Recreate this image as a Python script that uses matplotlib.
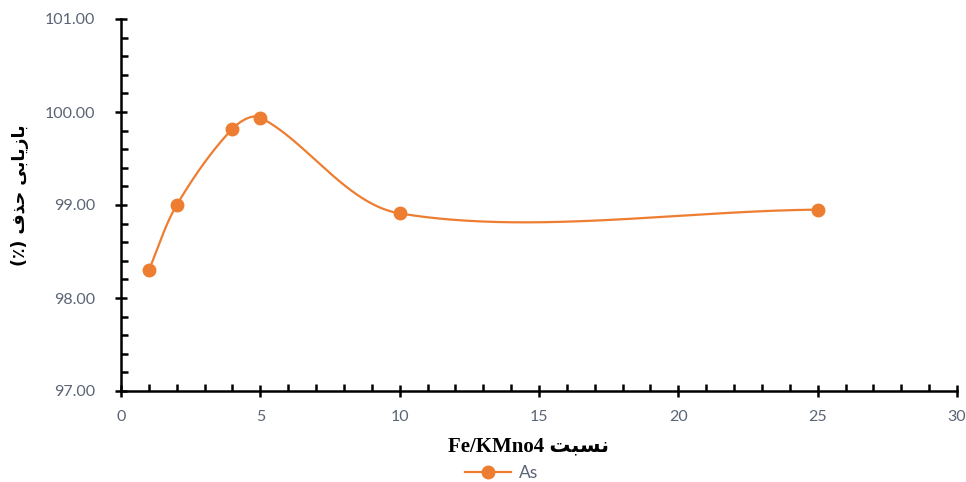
import numpy as np
import matplotlib
matplotlib.use("Agg")
import matplotlib.pyplot as plt
from matplotlib.ticker import MultipleLocator, FormatStrFormatter
from matplotlib.lines import Line2D

# data
ratio = [1, 2, 4, 5, 10, 25]
removal = [98.30, 99.00, 99.82, 99.94, 98.91, 98.95]
series_name = "As"
# Persian labels (presentation forms, visual order, since matplotlib does no shaping)
xlabel_text = "Fe/KMno4 " + "\uFE96\uFE92\uFEB4\uFEE7"          # نسبت Fe/KMno4
ylabel_text = "(\u066A) " + "\uFED1\uFEAC\uFEA3" + " " + "\uFEF0\uFE91\uFE8E\uFEF3\uFEAF\uFE8E\uFE91"  # بازیابی حذف (٪)

orange = "#ED7D31"
tick_col = "#5B6475"

fig = plt.figure(figsize=(9.66, 4.82), dpi=100)
ax = fig.add_axes([121/966, 1-391/482, (957-121)/966, (391-19)/482])
ax.set_xlim(0, 30)
ax.set_ylim(97, 101)

# smooth curve in display space (tangent scaled by neighbouring segment lengths)
fig.canvas.draw()
pts = ax.transData.transform(np.column_stack([ratio, removal]))
P = np.vstack([pts[0], pts, pts[-1]])
t = np.linspace(0, 1, 80)[:, None]
f = 0.33
curve = []
for i in range(1, len(P) - 2):
    p0, p1, p2, p3 = P[i-1], P[i], P[i+1], P[i+2]
    L01 = np.linalg.norm(p1 - p0); L12 = np.linalg.norm(p2 - p1); L23 = np.linalg.norm(p3 - p2)
    d1 = p2 - p0
    d2 = p3 - p1
    c1 = p1 + d1 * f * L12 / max(L01 + L12, 1e-9)
    c2 = p2 - d2 * f * L12 / max(L12 + L23, 1e-9)
    b = ((1-t)**3)*p1 + 3*((1-t)**2)*t*c1 + 3*(1-t)*t**2*c2 + t**3*p2
    curve.append(b)
curve = np.vstack(curve)
curve = ax.transData.inverted().transform(curve)
ax.plot(curve[:, 0], curve[:, 1], color=orange, lw=1.6, zorder=2)
ax.plot(ratio, removal, 'o', color=orange, ms=9, zorder=3)

for s in ["top", "right"]:
    ax.spines[s].set_visible(False)
for s in ["left", "bottom"]:
    ax.spines[s].set_linewidth(1.8)
    ax.spines[s].set_color("black")

ax.xaxis.set_major_locator(MultipleLocator(5))
ax.xaxis.set_minor_locator(MultipleLocator(1))
ax.yaxis.set_major_locator(MultipleLocator(1))
ax.yaxis.set_minor_locator(MultipleLocator(0.2))
ax.yaxis.set_major_formatter(FormatStrFormatter("%.2f"))
ax.tick_params(which="major", direction="inout", length=9, width=1.8, color="black",
               labelsize=11.5, labelcolor=tick_col)
ax.tick_params(axis="y", which="major", pad=14)
ax.tick_params(axis="x", which="major", pad=9)
ax.tick_params(which="minor", direction="in", length=5, width=1.8, color="black")
for lab in ax.get_xticklabels() + ax.get_yticklabels():
    lab.set_fontfamily(["Lato", "DejaVu Sans"])

fig.text(528/966, 1-446/482, xlabel_text, ha="center", va="center", fontsize=15,
         fontweight="bold", family=["Liberation Serif", "DejaVu Sans"])
fig.text(20/966, 1-195/482, ylabel_text, ha="center", va="center", rotation=90,
         fontsize=12.5, fontweight="bold", family=["DejaVu Sans"])

h = Line2D([], [], color=orange, lw=1.6, marker='o', ms=9)
leg = fig.legend([h], [series_name], loc="center", bbox_to_anchor=(502/966, 1-473/482),
                 frameon=False, handlelength=2.6, handletextpad=0.5, borderpad=0.0,
                 prop={"family": "Lato", "size": 12.5})
for txt in leg.get_texts():
    txt.set_color(tick_col)

fig.savefig("out.png", dpi=100)
